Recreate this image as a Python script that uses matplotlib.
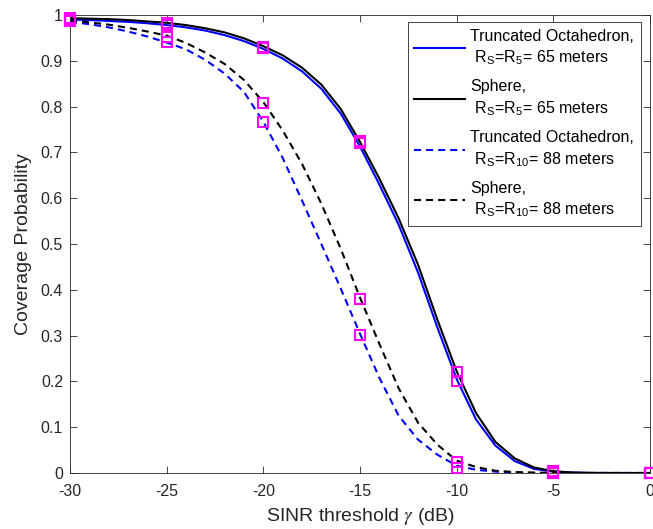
import matplotlib
matplotlib.use("Agg")
import matplotlib.pyplot as plt

plt.rcParams["font.family"] = ["Liberation Sans", "DejaVu Sans"]
plt.rcParams["mathtext.fontset"] = "stix"
plt.rcParams["axes.unicode_minus"] = False

# SINR threshold grid (dB)
snr_db = [-30, -29, -28, -27, -26, -25, -24, -23, -22, -21, -20,
          -19, -18, -17, -16, -15, -14, -13, -12, -11, -10,
          -9, -8, -7, -6, -5, -4, -3, -2, -1, 0]

# Analytical coverage probability
to_65 = [0.990, 0.989, 0.987, 0.985, 0.982, 0.978, 0.973, 0.966, 0.956, 0.943, 0.926,
         0.905, 0.877, 0.839, 0.785, 0.713, 0.630, 0.542, 0.438, 0.318, 0.205,
         0.117, 0.060, 0.026, 0.009, 0.003, 0.001, 0.0, 0.0, 0.0, 0.0]
sp_65 = [0.993, 0.992, 0.991, 0.989, 0.986, 0.983, 0.978, 0.971, 0.962, 0.949, 0.932,
         0.912, 0.885, 0.848, 0.795, 0.723, 0.643, 0.556, 0.455, 0.335, 0.222,
         0.131, 0.068, 0.032, 0.012, 0.004, 0.001, 0.0003, 0.0001, 0.0, 0.0]
to_88 = [0.985, 0.980, 0.973, 0.964, 0.953, 0.940, 0.925, 0.902, 0.872, 0.832, 0.767,
         0.688, 0.595, 0.500, 0.403, 0.304, 0.208, 0.125, 0.073, 0.040, 0.016,
         0.007, 0.003, 0.001, 0.0, 0.0, 0.0, 0.0, 0.0, 0.0, 0.0]
sp_88 = [0.988, 0.984, 0.979, 0.972, 0.964, 0.955, 0.939, 0.918, 0.893, 0.858, 0.810,
         0.748, 0.675, 0.588, 0.490, 0.383, 0.282, 0.185, 0.110, 0.062, 0.027,
         0.013, 0.005, 0.002, 0.001, 0.0, 0.0, 0.0, 0.0, 0.0, 0.0]

# Simulation points
sim_db = [-30, -25, -20, -15, -10, -5, 0]
sim_to_65 = [0.990, 0.978, 0.928, 0.720, 0.201, 0.003, 0.0]
sim_sp_65 = [0.993, 0.982, 0.931, 0.724, 0.221, 0.004, 0.0]
sim_to_88 = [0.986, 0.940, 0.766, 0.302, 0.010, 0.001, 0.0]
sim_sp_88 = [0.988, 0.953, 0.807, 0.381, 0.024, 0.001, 0.0]

labels = [
    "Truncated Octahedron,\n R$_\\mathregular{S}$=R$_\\mathregular{5}$= 65 meters",
    "Sphere,\n R$_\\mathregular{S}$=R$_\\mathregular{5}$= 65 meters",
    "Truncated Octahedron,\n R$_\\mathregular{S}$=R$_\\mathregular{10}$= 88 meters",
    "Sphere,\n R$_\\mathregular{S}$=R$_\\mathregular{10}$= 88 meters",
]

axcol = (0.15, 0.15, 0.15)
fig = plt.figure(figsize=(6.53, 5.29), dpi=100)
ax = fig.add_axes([70 / 653, 1 - 473 / 529, 580 / 653, 458 / 529])

dash = (3.4, 2.4)
ax.plot(snr_db, to_65, color="blue", lw=1.5, label=labels[0])
ax.plot(snr_db, sp_65, color="black", lw=1.5, label=labels[1])
ax.plot(snr_db, to_88, color="blue", lw=1.5, ls="--", dashes=dash, label=labels[2])
ax.plot(snr_db, sp_88, color="black", lw=1.5, ls="--", dashes=dash, label=labels[3])

for sim in (sim_to_65, sim_sp_65, sim_to_88, sim_sp_88):
    ax.plot(sim_db, sim, ls="none", marker="s", ms=7.5, mfc="none",
            mec=(1, 0, 1), mew=1.5, clip_on=False, zorder=5)

ax.set_xlim(-30, 0)
ax.set_ylim(0, 1)
ax.set_xticks([-30, -25, -20, -15, -10, -5, 0])
ax.set_yticks([0, 0.1, 0.2, 0.3, 0.4, 0.5, 0.6, 0.7, 0.8, 0.9, 1])
ax.set_yticklabels(["0", "0.1", "0.2", "0.3", "0.4", "0.5", "0.6", "0.7", "0.8", "0.9", "1"])
ax.tick_params(direction="in", top=True, right=True, length=5, width=0.6,
               colors=axcol, labelsize=11.5)
ax.tick_params(axis="x", pad=8)
ax.tick_params(axis="y", pad=5)
for s in ax.spines.values():
    s.set_color(axcol)
    s.set_linewidth(0.6)

ax.set_xlabel("SINR threshold $\\gamma$ (dB)", fontsize=14, color=axcol, labelpad=5)
ax.set_ylabel("Coverage Probability", fontsize=14, color=axcol, labelpad=6)

leg = ax.legend(loc="upper right", bbox_to_anchor=(0.984, 0.985), borderaxespad=0,
                fontsize=11.5, handlelength=3.2, handletextpad=0.3,
                labelspacing=0.75, borderpad=0.42, fancybox=False, framealpha=1,
                edgecolor=axcol)
leg.get_frame().set_linewidth(0.6)
for t in leg.get_texts():
    t.set_linespacing(1.4)

fig.savefig("out.png", dpi=100)
